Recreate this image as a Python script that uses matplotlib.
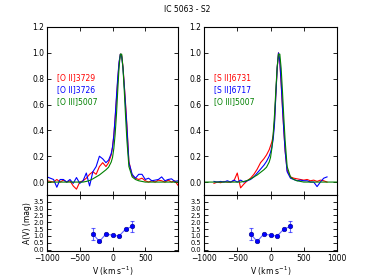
import numpy as np
import matplotlib
matplotlib.use("Agg")
from matplotlib import pyplot as plt

nan = np.nan

# velocity grid (km/s)
vel = [-1000, -950, -900, -850, -800, -750, -700, -650, -600, -550,
       -500, -450, -400, -350, -300, -250, -200, -150, -100, -60,
       -20, 0, 20, 40, 60, 80, 100, 120, 140, 160,
       180, 200, 220, 250, 300, 350, 400, 450, 500, 550,
       600, 650, 700, 750, 800, 850, 900, 950, 1000]

# left panel: [O II]3729, [O II]3726
oii_3729 = [0.01, 0.005, 0.0, 0.02, 0.0, 0.015, 0.0, 0.01, -0.03, -0.055,
            0.0, 0.01, 0.03, 0.06, 0.08, 0.06, 0.12, 0.15, 0.12, 0.15,
            0.21, 0.27, 0.36, 0.49, 0.64, 0.79, 0.92, 0.99, 0.98, 0.89,
            0.75, 0.6, 0.44, 0.16, 0.05, 0.03, 0.02, 0.03, 0.01, 0.0,
            0.01, 0.0, 0.015, 0.01, 0.0, 0.015, 0.0, 0.01, -0.025]
oii_3726 = [0.04, 0.03, 0.02, -0.04, 0.02, 0.02, 0.0, 0.02, -0.01, 0.035,
            -0.01, 0.01, 0.07, -0.03, 0.08, 0.12, 0.2, 0.18, 0.15, 0.17,
            0.22, 0.27, 0.36, 0.5, 0.66, 0.81, 0.93, 0.99, 0.97, 0.88,
            0.74, 0.58, 0.42, 0.15, 0.06, 0.03, 0.06, 0.06, 0.02, 0.03,
            0.01, 0.015, 0.02, 0.04, 0.01, 0.02, 0.025, 0.005, 0.01]

# [O III]5007, both panels
oiii_5007 = [0.0, 0.0, 0.0, 0.0, 0.0, 0.0, 0.0, 0.0, 0.0, 0.0,
             0.0, 0.0, 0.005, 0.012, 0.025, 0.04, 0.055, 0.075, 0.095, 0.115,
             0.155, 0.19, 0.26, 0.37, 0.52, 0.71, 0.89, 0.99, 0.99, 0.88,
             0.7, 0.5, 0.32, 0.12, 0.04, 0.02, 0.01, 0.005, 0.0, 0.0,
             0.0, 0.0, 0.0, 0.0, 0.0, 0.0, 0.0, 0.0, 0.0]

# right panel: [S II]6731, [S II]6717
sii_6731 = [nan, nan, nan, -0.01, 0.0, -0.005, 0.005, 0.0, 0.0, 0.01,
            0.07, -0.045, -0.015, 0.01, 0.03, 0.06, 0.1, 0.15, 0.18, 0.21,
            0.25, 0.28, 0.31, 0.36, 0.47, 0.68, 0.88, 1.0, 0.93, 0.76,
            0.57, 0.4, 0.24, 0.09, 0.04, 0.03, 0.025, 0.02, 0.015, 0.02,
            0.01, 0.015, 0.005, 0.015, 0.01, 0.0, nan, nan, nan]
sii_6717 = [nan, nan, nan, 0.005, 0.0, 0.005, 0.0, 0.01, 0.0, 0.015,
            0.0, 0.015, 0.0, 0.01, 0.02, 0.04, 0.07, 0.1, 0.13, 0.16,
            0.2, 0.23, 0.27, 0.33, 0.45, 0.67, 0.88, 1.0, 0.94, 0.77,
            0.58, 0.4, 0.24, 0.08, 0.03, 0.02, 0.01, 0.015, 0.01, 0.01,
            0.0, 0.0, -0.035, 0.0, 0.03, 0.04, nan, nan, nan]

# extinction A(V) per velocity bin
av_vel = [-300, -200, -100, 0, 100, 200, 300]
av = [1.15, 0.6, 1.15, 1.05, 1.0, 1.5, 1.7]
av_err = [0.42, 0.03, 0.03, 0.03, 0.03, 0.03, 0.4]

plt.rcParams["font.family"] = "DejaVu Sans"
plt.rcParams["font.size"] = 5.5
plt.rcParams["mathtext.default"] = "regular"
plt.rcParams["axes.linewidth"] = 0.8

fig = plt.figure(figsize=(3.74, 2.8), dpi=100)
fig.patch.set_facecolor("white")

def style(ax):
    ax.tick_params(direction="in", top=True, right=True, length=3, width=0.6, pad=2)
    ax.set_xlim(-1000, 1000)

panels = [
    (0.1257, [("[O II]3729", oii_3729, "r"), ("[O II]3726", oii_3726, "b"),
              ("[O III]5007", oiii_5007, "g")], [-1000, -500, 0, 500], True),
    (0.5455, [("[S II]6731", sii_6731, "r"), ("[S II]6717", sii_6717, "b"),
              ("[O III]5007", oiii_5007, "g")], [-1000, -500, 0, 500, 1000], False),
]

for x0, lines, xt, first in panels:
    w = 0.3503 if first else 0.3556
    top = fig.add_axes([x0, 0.3036, w, 0.6])
    for i, (name, vals, c) in enumerate(lines):
        top.plot(vel, vals, color=c, lw=0.8)
        top.text(-850, 0.81 - 0.095 * i, name, color=c, va="center", ha="left")
    style(top)
    top.set_ylim(-0.1, 1.2)
    top.set_yticks([0.0, 0.2, 0.4, 0.6, 0.8, 1.0, 1.2])
    top.set_xticks([-1000, -500, 0, 500, 1000])
    top.set_xticklabels([])

    bot = fig.add_axes([x0, 0.1036, w, 0.2])
    bot.errorbar(av_vel, av, yerr=av_err, color="b", alpha=0.6, lw=0.8,
                 capsize=1.5, elinewidth=0.8, capthick=0.8)
    bot.plot(av_vel, av, "o", color="b", ms=3.3, mec="#000080", mew=0.4)
    style(bot)
    bot.set_ylim(-0.1, 4.0)
    bot.set_yticks([0.0, 0.5, 1.0, 1.5, 2.0, 2.5, 3.0, 3.5])
    bot.tick_params(axis="y", labelsize=4.8)
    bot.set_xticks(xt)
    bot.set_xlabel("V (km s$^{-1}$)", labelpad=1)
    if first:
        bot.set_ylabel("A(V) (mag)", labelpad=1)

fig.text(0.5, 0.967, "IC 5063 - S2", ha="center", va="center")

fig.savefig("out.png", dpi=100, facecolor="white")
